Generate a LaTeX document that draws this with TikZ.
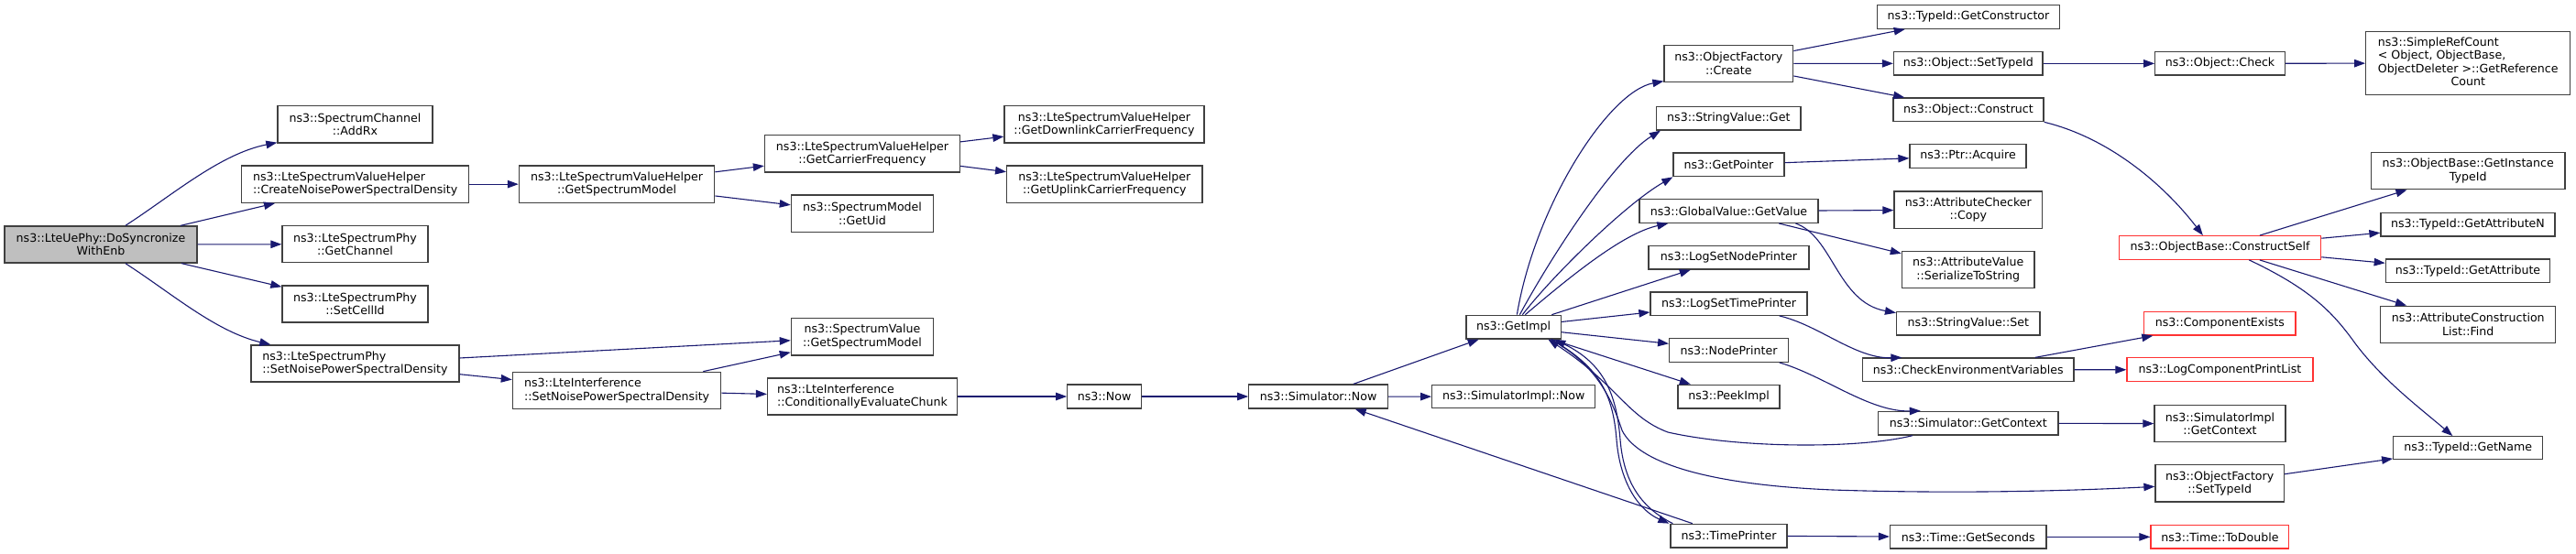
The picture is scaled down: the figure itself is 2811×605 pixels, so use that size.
\documentclass[tikz,border=0pt]{standalone}
\usepackage{fontspec}
\setmainfont{DejaVu Sans}
\usetikzlibrary{arrows.meta}
\definecolor{edgec}{HTML}{191970}
\definecolor{boxc}{HTML}{404040}
\definecolor{redc}{HTML}{FF3333}
\definecolor{rootc}{HTML}{BFBFBF}
\tikzset{
  box/.style={draw=boxc, line width=1.3pt, inner sep=0pt, align=center, text=black},
  boxl/.style={box, align=left},
  redbox/.style={box, draw=redc},
  rootbox/.style={box, fill=rootc},
  call/.style={draw=edgec, fill=none, line width=1.1pt, -{Triangle[length=12pt,width=8.5pt,fill=edgec]}}
}
\newcommand\mkbox[7]{%
  \pgfmathsetmacro\bcx{(#3+#5)/2}%
  \pgfmathsetmacro\bcy{(#4+#6)/2}%
  \pgfmathsetmacro\bw{#5-#3}%
  \pgfmathsetmacro\bh{#6-#4}%
  \node[#1, minimum width=\bw pt, minimum height=\bh pt] (#2) at (\bcx,\bcy) {#7};%
}
\begin{document}
\begin{tikzpicture}[x=1pt,y=-1pt,font=\fontsize{12.6pt}{14.5pt}\selectfont]
\fill[white] (0,0) rectangle (2811,605);
\useasboundingbox (0,0) rectangle (2811,605);

% column 0-1
\mkbox{rootbox}{root}{5}{247}{215}{287}{ns3::LteUePhy::DoSyncronize\\WithEnb}
\mkbox{box}{addrx}{303}{115.7}{472}{156}{ns3::SpectrumChannel\\::AddRx}
\mkbox{boxl}{cnpsd}{263.6}{181}{511.8}{221.3}{ns3::LteSpectrumValueHelper\\::CreateNoisePowerSpectralDensity}
\mkbox{box}{getch}{308}{246.7}{467}{286.7}{ns3::LteSpectrumPhy\\::GetChannel}
\mkbox{box}{setcell}{308}{312}{467}{352}{ns3::LteSpectrumPhy\\::SetCellId}
\mkbox{boxl}{spsnpsd}{274}{377}{501}{417}{ns3::LteSpectrumPhy\\::SetNoisePowerSpectralDensity}
% column 2-4
\mkbox{box}{gsm}{566.4}{181}{779.8}{221.3}{ns3::LteSpectrumValueHelper\\::GetSpectrumModel}
\mkbox{boxl}{lisnpsd}{559.4}{406.3}{786.8}{446.3}{ns3::LteInterference\\::SetNoisePowerSpectralDensity}
\mkbox{box}{gcf}{834.5}{147.7}{1047.5}{188}{ns3::LteSpectrumValueHelper\\::GetCarrierFrequency}
\mkbox{box}{uid}{863.4}{213}{1018.6}{253.3}{ns3::SpectrumModel\\::GetUid}
\mkbox{box}{svgsm}{863.4}{347.3}{1018.6}{388}{ns3::SpectrumValue\\::GetSpectrumModel}
\mkbox{boxl}{cec}{837.5}{413}{1044.5}{453}{ns3::LteInterference\\::ConditionallyEvaluateChunk}
\mkbox{box}{dl}{1096}{115.7}{1314}{156}{ns3::LteSpectrumValueHelper\\::GetDownlinkCarrierFrequency}
\mkbox{box}{ul}{1098.7}{181}{1312}{221.3}{ns3::LteSpectrumValueHelper\\::GetUplinkCarrierFrequency}
\mkbox{box}{now}{1164.8}{420}{1245.4}{446}{ns3::Now}
\mkbox{box}{snow}{1362.8}{420}{1514.3}{446}{ns3::Simulator::Now}
\mkbox{box}{gimpl}{1600}{344.3}{1703.3}{370}{ns3::GetImpl}
\mkbox{box}{sinow}{1562.7}{420.7}{1740.7}{445.7}{ns3::SimulatorImpl::Now}
% GetImpl callees
\mkbox{box}{ofc}{1816}{49.3}{1956.7}{89.3}{ns3::ObjectFactory\\::Create}
\mkbox{box}{svget}{1807.6}{116.7}{1965}{142}{ns3::StringValue::Get}
\mkbox{box}{gptr}{1826}{167}{1947}{192.7}{ns3::GetPointer}
\mkbox{box}{gvgv}{1789}{217.7}{1984}{243.3}{ns3::GlobalValue::GetValue}
\mkbox{box}{lsnp}{1799}{268.3}{1974}{294}{ns3::LogSetNodePrinter}
\mkbox{box}{lstp}{1801}{319}{1972}{344.3}{ns3::LogSetTimePrinter}
\mkbox{box}{np}{1821.7}{369.3}{1951.3}{395.3}{ns3::NodePrinter}
\mkbox{box}{peek}{1831}{420.3}{1942}{446}{ns3::PeekImpl}
\mkbox{box}{tp}{1823}{572.3}{1950}{598}{ns3::TimePrinter}
% next column
\mkbox{box}{gctor}{2048.7}{5.7}{2247.3}{31.3}{ns3::TypeId::GetConstructor}
\mkbox{box}{ostid}{2066.5}{56.7}{2229}{82}{ns3::Object::SetTypeId}
\mkbox{box}{ocons}{2066}{107}{2230}{132.7}{ns3::Object::Construct}
\mkbox{box}{acq}{2084}{157.7}{2211}{183.3}{ns3::Ptr::Acquire}
\mkbox{box}{acopy}{2067}{209}{2228.6}{249.3}{ns3::AttributeChecker\\::Copy}
\mkbox{box}{ser}{2075.4}{274.7}{2220}{314.7}{ns3::AttributeValue\\::SerializeToString}
\mkbox{box}{svset}{2069.6}{340.3}{2226}{366}{ns3::StringValue::Set}
\mkbox{box}{cev}{2032.6}{391}{2263}{416.7}{ns3::CheckEnvironmentVariables}
\mkbox{box}{gctx}{2049.6}{449.3}{2246}{475}{ns3::Simulator::GetContext}
\mkbox{box}{gsec}{2062.5}{573.7}{2233}{599}{ns3::Time::GetSeconds}
% next column
\mkbox{box}{ocheck}{2351.8}{56.7}{2493.3}{82}{ns3::Object::Check}
\mkbox{redbox}{cself}{2312.5}{257.7}{2532.6}{283.3}{ns3::ObjectBase::ConstructSelf}
\mkbox{redbox}{cex}{2339.7}{340.3}{2505}{366}{ns3::ComponentExists}
\mkbox{redbox}{lcpl}{2321}{390.7}{2524}{416.7}{ns3::LogComponentPrintList}
\mkbox{box}{sigctx}{2351}{442.7}{2494}{482.7}{ns3::SimulatorImpl\\::GetContext}
\mkbox{box}{ofstid}{2352}{507.7}{2492.4}{548}{ns3::ObjectFactory\\::SetTypeId}
\mkbox{redbox}{todbl}{2347}{573.7}{2497.8}{599}{ns3::Time::ToDouble}
% last column
\mkbox{box}{src}{2581.7}{34.3}{2804.7}{103.7}{\begin{tabular}{@{}l@{}}ns3::SimpleRefCount\\< Object, ObjectBase,\\\multicolumn{1}{@{}c@{}}{ObjectDeleter >::GetReference}\\\multicolumn{1}{@{}c@{}}{Count}\end{tabular}}
\mkbox{box}{git}{2587.3}{166.7}{2799}{206.7}{ns3::ObjectBase::GetInstance\\TypeId}
\mkbox{box}{gan}{2598}{232.7}{2788}{258}{ns3::TypeId::GetAttributeN}
\mkbox{box}{ga}{2603.3}{283}{2782.7}{308.3}{ns3::TypeId::GetAttribute}
\mkbox{box}{acl}{2597.7}{334.3}{2788.7}{374.7}{ns3::AttributeConstruction\\List::Find}
\mkbox{box}{gname}{2611.7}{476.7}{2774.7}{501.7}{ns3::TypeId::GetName}

% edges from root
\draw[call] ([xshift=132.5pt]root.north west) .. controls (187,214) and (240,168) .. ([yshift=1pt]addrx.south west);
\draw[call] (root) -- (cnpsd);
\draw[call] (root) -- (getch);
\draw[call] (root) -- (setcell);
\draw[call] ([xshift=132.5pt]root.south west) .. controls (187,320) and (235,362) .. ([xshift=22pt]spsnpsd.north west);

\draw[call] (cnpsd) -- (gsm);
\draw[call] (gsm) -- (gcf);
\draw[call] (gsm) -- (uid);
\draw[call] (gcf) -- (dl);
\draw[call] (gcf) -- (ul);
\draw[call] (spsnpsd) -- (svgsm);
\draw[call] (spsnpsd) -- (lisnpsd);
\draw[call] (lisnpsd) -- (svgsm);
\draw[call] (lisnpsd) -- (cec);
\draw[call] (cec) -- (now);
\draw[call] (now) -- (snow);
\draw[call] (snow) -- (sinow);
\draw[call] (snow) -- (gimpl);
\draw[call] (tp) -- (snow);

% GetImpl fan
\draw[call] ([xshift=56pt]gimpl.north west) .. controls (1675,225) and (1755,100) .. ([yshift=1.3pt]ofc.south west);
\draw[call] ([xshift=59pt]gimpl.north west) .. controls (1690,285) and (1760,175) .. ([xshift=5pt]svget.south west);
\draw[call] ([xshift=62pt]gimpl.north west) .. controls (1695,300) and (1775,222) .. (gptr.south west);
\draw[call] ([xshift=65pt]gimpl.north west) .. controls (1710,305) and (1770,255) .. ([xshift=32pt]gvgv.south west);
\draw[call] (gimpl) -- (lsnp);
\draw[call] (gimpl) -- (lstp);
\draw[call] (gimpl) -- (np);
\draw[call] (gimpl) -- (peek);
\draw[call] ([xshift=93pt]gimpl.south west) .. controls (1745,400) and (1760,430) .. (1764,480) .. controls (1768,530) and (1790,558) .. ([xshift=-1pt]tp.north west);
\draw[call] ([xshift=3pt]tp.north west) .. controls (1794,556) and (1772,530) .. (1768,480) .. controls (1764,430) and (1750,397) .. ([xshift=97pt]gimpl.south west);
\draw[call] ([xshift=38pt]gctx.south west) .. controls (2030,490) and (1900,490) .. (1820,472) .. controls (1775,455) and (1765,420) .. ([xshift=90pt]gimpl.south west);
\draw[call] ([xshift=93pt]gimpl.south west) .. controls (1745,400) and (1760,440) .. (1770,470) .. controls (1790,510) and (1880,530) .. (2000,535) .. controls (2150,540) and (2280,535) .. ([yshift=-24.3pt]ofstid.north west);

% further
\draw[call] (ofc) -- (gctor);
\draw[call] (ofc) -- (ostid);
\draw[call] (ofc) -- (ocons);
\draw[call] (gptr) -- (acq);
\draw[call] (gvgv) -- (acopy);
\draw[call] (gvgv) -- (ser);
\draw[call] ([xshift=171pt]gvgv.south west) .. controls (2000,258) and (2005,330) .. ([yshift=-2pt]svset.north west);
\draw[call] ([xshift=141.4pt]lstp.south west) .. controls (1985,355) and (2025,392) .. ([xshift=43.4pt]cev.north west);
\draw[call] ([xshift=120.7pt]np.south west) .. controls (1990,410) and (2040,450) .. ([xshift=46.8pt]gctx.north west);
\draw[call] (tp) -- (gsec);
\draw[call] (gsec) -- (todbl);
\draw[call] (cev) -- (cex);
\draw[call] (cev) -- (lcpl);
\draw[call] (gctx) -- (sigctx);
\draw[call] (ostid) -- (ocheck);
\draw[call] (ocheck) -- (src);
\draw[call] (ocons.south east) .. controls (2300,150) and (2360,200) .. ([xshift=92pt]cself.north west);
\draw[call] (cself) -- (git);
\draw[call] (cself) -- (gan);
\draw[call] (cself) -- (ga);
\draw[call] (cself) -- (acl);
\draw[call] ([xshift=142.5pt]cself.south west) .. controls (2520,315) and (2545,340) .. (2570,375) .. controls (2600,415) and (2640,445) .. ([xshift=65.3pt]gname.north west);
\draw[call] (ofstid) -- (gname);
\end{tikzpicture}
\end{document}
